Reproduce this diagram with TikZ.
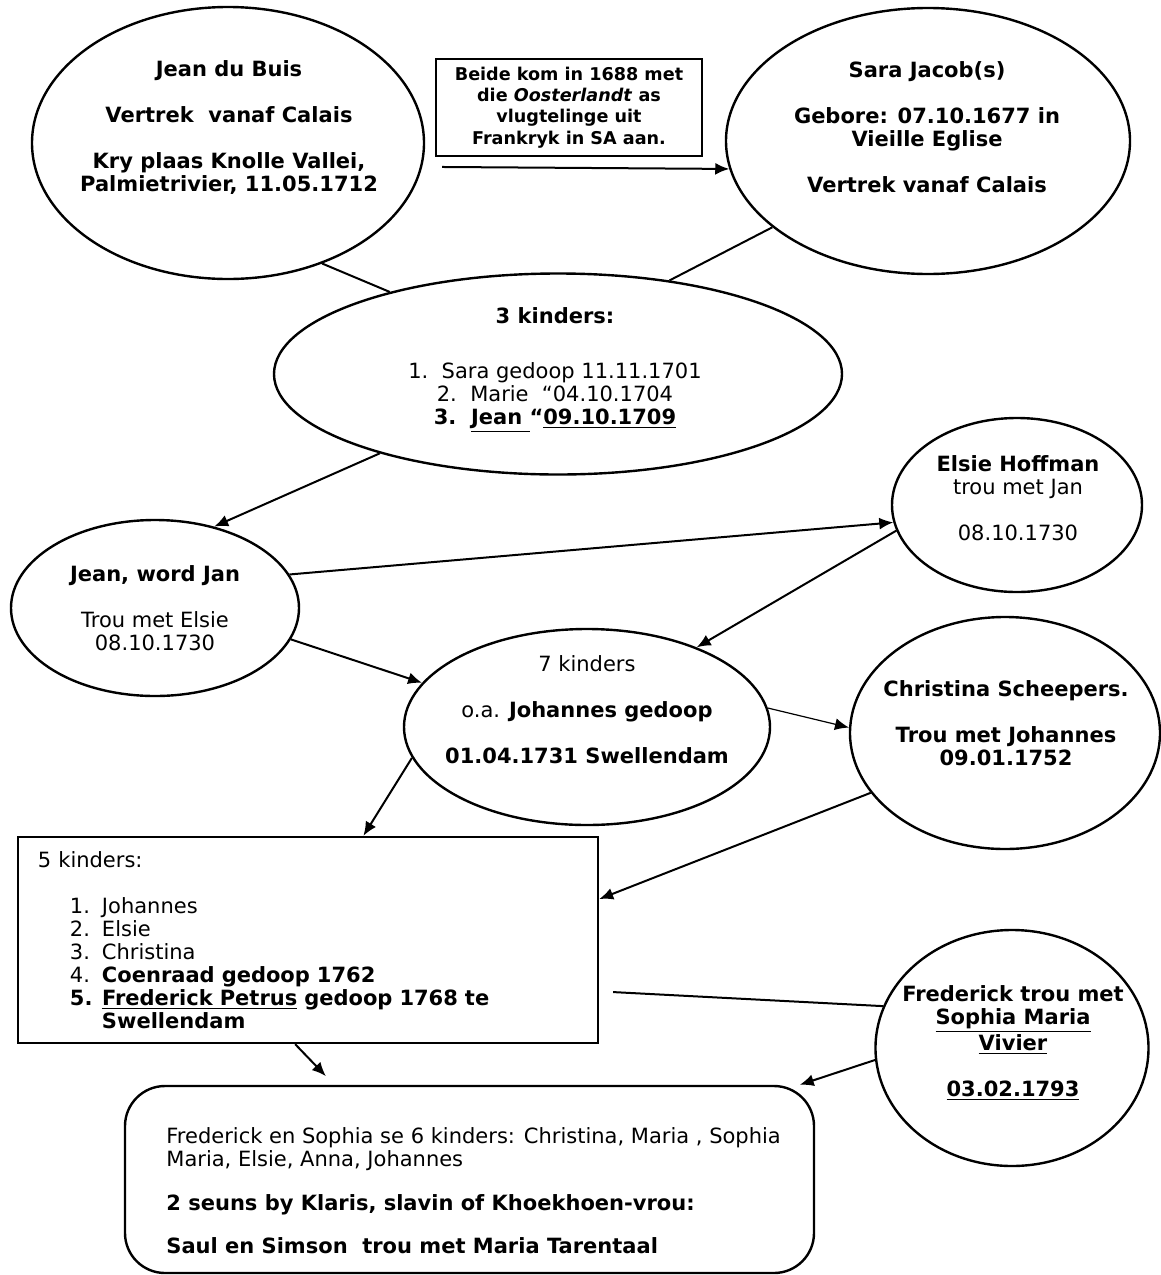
\documentclass[tikz,border=0pt]{standalone}
\usepackage{fontspec}
\setmainfont{DejaVu Sans}
\usetikzlibrary{shapes,positioning,arrows.meta}
\newcommand{\bodysize}{\fontsize{10.5}{11.5}\selectfont}
\newcommand{\smallsize}{\fontsize{8.8}{10.7}\selectfont}
\newcommand{\kid}[2]{\hspace*{16pt}\makebox[16pt][l]{#1}#2}

\begin{document}
\begin{tikzpicture}[
    x=0.5pt, y=-0.5pt,
    >={Latex[length=7pt,width=6pt]},
    oval/.style={
        ellipse,
        draw,
        line width=1.2pt,
        inner sep=0pt
    },
    card/.style={
        rectangle,
        draw,
        line width=1.2pt
    },
    txt/.style={align=center, font=\bodysize, inner sep=0pt},
    bold/.style={align=center, font=\bodysize\bfseries, inner sep=0pt},
    link/.style={line width=1pt}
    ]
    \useasboundingbox (0,0) rectangle (1161,1275);

    % the ellipses
    \node[oval, minimum width=196pt, minimum height=136pt] (jean) at (228,143) {};
    \node[oval, minimum width=202pt, minimum height=133pt] (sara) at (928,141) {};
    \node[oval, minimum width=284pt, minimum height=100.5pt] (kids3) at (558,374) {};
    \node[oval, minimum width=144pt, minimum height=88pt] (jan) at (155,608) {};
    \node[oval, minimum width=125pt, minimum height=87pt] (elsie) at (1017,505) {};
    \node[oval, minimum width=183pt, minimum height=98pt] (kids7) at (587,727) {};
    \node[oval, minimum width=155pt, minimum height=116pt] (christina) at (1005,733) {};
    \node[oval, minimum width=136.5pt, minimum height=118pt] (fred) at (1012,1048) {};

    % their texts
    \node[bold] (jeantext) at (229,128) {Jean du Buis\\[11.5pt]Vertrek~ vanaf Calais\\[11.5pt]Kry plaas Knolle Vallei,\\Palmietrivier, 11.05.1712};
    \node[bold] (saratext) at (927,127) {Sara Jacob(s)\\[11.5pt]Gebore: 07.10.1677 in\\Vieille Eglise\\[11.5pt]Vertrek vanaf Calais};
    \node[txt] (kids3text) at (555,370) {\textbf{3 kinders:}\\[16pt]1.~~Sara gedoop 11.11.1701\\2.~~Marie~~“04.10.1704\\\textbf{3.~~\underline{Jean~}“\underline{09.10.1709}}};
    \node[txt] (jantext) at (155,608) {\textbf{Jean, word Jan}\\[11.5pt]Trou met Elsie\\08.10.1730};
    \node[txt] (elsietext) at (1018,498) {\textbf{Elsie Hoffman}\\trou met Jan\\[11.5pt]08.10.1730};
    \node[txt] (kids7text) at (587,710) {7 kinders\\[11.5pt]o.a. \textbf{Johannes gedoop}\\[11.5pt]\textbf{01.04.1731 Swellendam}};
    \node[bold] (christinatext) at (1006,723) {Christina Scheepers.\\[11.5pt]Trou met Johannes\\09.01.1752};
    \node[bold] (fredtext) at (1013,1043) {Frederick trou met\\\underline{Sophia Maria}\\\underline{Vivier}\\[11.5pt]\underline{03.02.1793}};

    % the boxes
    \node[card, minimum width=133pt, minimum height=48.5pt, align=center, font=\smallsize\bfseries] (beide) at (569,107.5) {Beide kom in 1688 met\\die \textit{Oosterlandt} as\\vlugtelinge uit\\Frankryk in SA aan.};
    \node[card, minimum width=290pt, minimum height=103pt, text width=270pt, inner xsep=10pt, align=left, font=\bodysize] (kids5) at (308,940) {5 kinders:\\[11.5pt]
        \kid{1.}{Johannes}\\
        \kid{2.}{Elsie}\\
        \kid{3.}{Christina}\\
        \kid{4.}{\textbf{Coenraad gedoop 1762}}\\
        \kid{\textbf{5.}}{\textbf{\underline{Frederick Petrus} gedoop 1768 te}}\\
        \kid{}{\textbf{Swellendam}}};
    \node[card, rounded corners=20pt, minimum width=344.5pt, minimum height=93.5pt] (sons) at (469.5,1179.5) {};
    \node[txt, align=left, anchor=west] (sonstext) at (166,1191) {Frederick en Sophia se 6 kinders: Christina, Maria , Sophia\\Maria, Elsie, Anna, Johannes\\[10.5pt]\textbf{2 seuns by Klaris, slavin of Khoekhoen-vrou:}\\[10pt]\textbf{Saul en Simson~ trou met Maria Tarentaal}};

    % connectors
    \draw[->, link, shorten <=10pt] (jean.-7) -- (sara.188);
    \draw[link] (jean.-52) -- (kids3.154);
    \draw[link] (sara.-151) -- (kids3.40);
    \draw[->, link] (kids3.204) -- (jan.54);
    \draw[->, link] (jan.14) -- (elsie.188);
    \draw[->, link] (elsie.192) -- (kids7.36);
    \draw[->, link] (jan.-13) -- (kids7.165);
    \draw[->, line width=0.6pt] (kids7.6) -- (christina.178);
    \draw[->, link] (kids7.190) -- (kids5.62);
    \draw[->, link] (christina.204) -- (kids5.8);
    \draw[link, shorten <=7pt] (kids5.-10) -- (fred.162);
    \draw[->, link, shorten >=6pt] (kids5.-97) -- (sons.145);
    \draw[->, link] (fred.185) -- (sons.16);
\end{tikzpicture}
\end{document}
